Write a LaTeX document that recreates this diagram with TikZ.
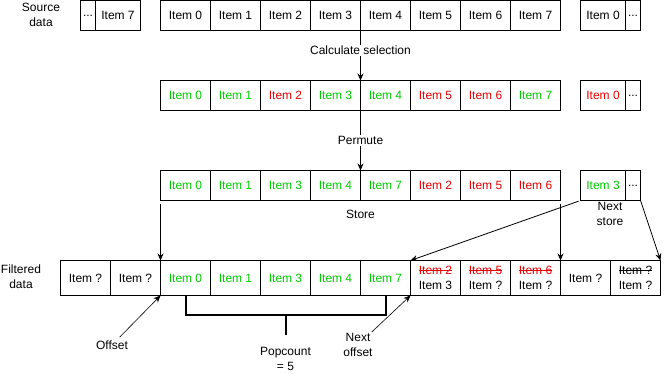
\documentclass[tikz,border=0pt]{standalone}
\usepackage{fontspec}
\setmainfont{Liberation Sans}
\usetikzlibrary{arrows.meta, positioning}

\definecolor{keepgreen}{RGB}{0,204,0}
\definecolor{dropred}{RGB}{230,0,0}

% text with a line through it
\newcommand{\struck}[1]{\setbox0\hbox{#1}\rlap{\raisebox{0.33em}{\rule{\wd0}{0.8pt}}}\box0}

\begin{document}
\begin{tikzpicture}[x=1pt, y=-1pt, >={Stealth[length=7pt,width=6pt]}, node distance=0pt,
	font=\fontsize{12}{15}\selectfont]
	\tikzstyle{cell} = [draw, line width=1pt, minimum width=50pt, minimum height=30pt, inner sep=0pt, outer sep=0pt]
	\tikzstyle{small} = [cell, minimum width=45pt]
	\tikzstyle{dots} = [cell, minimum width=15pt]
	\tikzstyle{tall} = [cell, minimum height=35pt, align=center]
	\tikzstyle{keep} = [text=keepgreen]
	\tikzstyle{drop} = [text=dropred]
	\tikzstyle{caption} = [inner sep=1pt, align=center]
	\tikzstyle{tag} = [caption, fill=white]
	\tikzstyle{flow} = [->, line width=0.8pt]
	\tikzstyle{hint} = [->, line width=0.6pt]
	\tikzstyle{bracket} = [line width=2pt]

	\useasboundingbox (0,0) rectangle (668,374);

	% source data
	\path
		node[small, anchor=north east] (sb) at (140.5,0.5) {Item 7}
		node[dots, left=of sb] (sa) {...}
		node[cell, anchor=north west] (s0) at (160.5,0.5) {Item 0}
		node[cell, right=of s0] (s1) {Item 1}
		node[cell, right=of s1] (s2) {Item 2}
		node[cell, right=of s2] (s3) {Item 3}
		node[cell, right=of s3] (s4) {Item 4}
		node[cell, right=of s4] (s5) {Item 5}
		node[cell, right=of s5] (s6) {Item 6}
		node[cell, right=of s6] (s7) {Item 7}
		node[small, anchor=north west] (sn0) at (580.5,0.5) {Item 0}
		node[dots, right=of sn0] (sn1) {...}
	;
	\node[caption] (srclabel) at (41,15) {Source\\data};

	% selection
	\path
		node[cell, keep, anchor=north west] (c0) at (160.5,80.5) {Item 0}
		node[cell, keep, right=of c0] (c1) {Item 1}
		node[cell, drop, right=of c1] (c2) {Item 2}
		node[cell, keep, right=of c2] (c3) {Item 3}
		node[cell, keep, right=of c3] (c4) {Item 4}
		node[cell, drop, right=of c4] (c5) {Item 5}
		node[cell, drop, right=of c5] (c6) {Item 6}
		node[cell, keep, right=of c6] (c7) {Item 7}
		node[small, drop, anchor=north west] (cn0) at (580.5,80.5) {Item 0}
		node[dots, right=of cn0] (cn1) {...}
	;

	% permuted
	\path
		node[cell, keep, anchor=north west] (p0) at (160.5,170.5) {Item 0}
		node[cell, keep, right=of p0] (p1) {Item 1}
		node[cell, keep, right=of p1] (p2) {Item 3}
		node[cell, keep, right=of p2] (p3) {Item 4}
		node[cell, keep, right=of p3] (p4) {Item 7}
		node[cell, drop, right=of p4] (p5) {Item 2}
		node[cell, drop, right=of p5] (p6) {Item 5}
		node[cell, drop, right=of p6] (p7) {Item 6}
		node[small, keep, anchor=north west] (n0) at (580.5,170.5) {Item 3}
		node[dots, right=of n0] (n1) {...}
	;
	\node[caption, below=8pt of p3.south east] (store) {Store};
	\node[caption] (nextstore) at (610,214) {Next\\store};

	% filtered data
	\path
		node[tall, anchor=north west] (f0) at (60.5,260.5) {Item ?}
		node[tall, right=of f0] (f1) {Item ?}
		node[tall, keep, right=of f1] (f2) {Item 0}
		node[tall, keep, right=of f2] (f3) {Item 1}
		node[tall, keep, right=of f3] (f4) {Item 3}
		node[tall, keep, right=of f4] (f5) {Item 4}
		node[tall, keep, right=of f5] (f6) {Item 7}
		node[tall, right=of f6] (f7) {{\color{dropred}\struck{Item 2}}\\Item 3}
		node[tall, right=of f7] (f8) {{\color{dropred}\struck{Item 5}}\\Item ?}
		node[tall, right=of f8] (f9) {{\color{dropred}\struck{Item 6}}\\Item ?}
		node[tall, right=of f9] (f10) {Item ?}
		node[tall, right=of f10] (f11) {\struck{Item ?}\\Item ?}
	;
	\node[caption] (filtlabel) at (21,277) {Filtered\\data};

	% steps
	\draw[flow] (s3.south east) -- node[tag, pos=0.4] {Calculate selection} (c3.north east);
	\draw[flow] (c3.south east) -- node[tag] {Permute} (p3.north east);

	\draw[flow, shorten <=3pt] (p0.south west) -- (f2.north west);
	\draw[flow, shorten <=3pt] (p7.south east) -- (f9.north east);
	\draw[flow, shorten <=2pt] (n0.south west) -- (f7.north west);
	\draw[flow] (n1.south east) -- (f11.north east);

	% offsets
	\node[caption] (offset) at (112,345) {Offset};
	\node[caption] (nextoffset) at (358,345) {Next\\offset};
	\draw[hint, shorten <=3pt] (offset) -- (f2.south west);
	\draw[hint] (nextoffset) -- (f7.south west);

	% popcount
	\draw[bracket] (f2.south) -- ++(0,19) coordinate (bl) -| (f6.south);
	\draw[bracket] (bl -| f4.south) -- ++(0,20)
		node[caption, below=11pt] (popcount) {Popcount\\= 5};
\end{tikzpicture}
\end{document}
